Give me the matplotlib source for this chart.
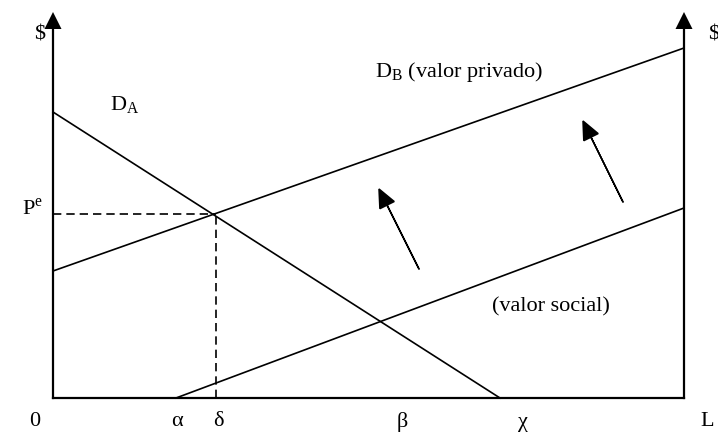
import matplotlib
matplotlib.use("Agg")
import matplotlib.pyplot as plt

plt.rcParams['font.family'] = ['Liberation Serif', 'DejaVu Serif']
plt.rcParams['mathtext.fontset'] = 'custom'
plt.rcParams['mathtext.rm'] = 'Liberation Serif'

# Data (arbitrary units: quantity L on x, $ on y)
L_max = 631
y_top = 386
demand_A_x = [0, 447]          # D_A
demand_A_y = [286, 0]
private_x = [0, 631]           # D_B (valor privado)
private_y = [127, 350]
social_x = [123, 631]          # valor social
social_y = [0, 190]
delta = 163
p_e = 184
shift_starts = [(366, 129), (570, 196)]
shift_ends = [(326, 209), (530, 277)]
x_tick_labels = ['0', 'α', 'δ', 'β', 'χ', 'L']
x_tick_pos = [-18, 124, 165, 349, 470, 654]

fig = plt.figure(figsize=(7.18, 4.32), dpi=100)
ax = fig.add_axes([0, 0, 1, 1])
ax.set_xlim(-53, 665)
ax.set_ylim(-34, 398)
ax.axis('off')

lw = 1.2
# axes
ax.plot([0, L_max], [0, 0], color='black', lw=1.6)
for xa in (0, L_max):
    ax.plot([xa, xa], [0, y_top - 16], color='black', lw=1.6)
    ax.arrow(xa, y_top - 17, 0, 17, head_width=17, head_length=17,
             length_includes_head=True, fc='black', ec='black', lw=0)

ax.plot(demand_A_x, demand_A_y, color='black', lw=lw)
ax.plot(private_x, private_y, color='black', lw=lw)
ax.plot(social_x, social_y, color='black', lw=lw)

# dashed equilibrium lines
ax.plot([0, delta], [p_e, p_e], color='black', lw=lw, ls=(0, (5, 3)))
ax.plot([delta, delta], [0, p_e], color='black', lw=lw, ls=(0, (5, 3)))

# shift arrows
for (x0, y0), (x1, y1) in zip(shift_starts, shift_ends):
    ax.arrow(x0, y0, x1 - x0, y1 - y0, head_width=16, head_length=18,
             length_includes_head=True, fc='black', ec='black', lw=1.1)

fs = 16
ax.text(-13, 363, '$', fontsize=fs, ha='center', va='center')
ax.text(661, 363, '$', fontsize=fs, ha='center', va='center')
ax.text(57, 293, r'D$_\mathrm{A}$', fontsize=fs, ha='left', va='center')
ax.text(-31, p_e + 5, r'P$^\mathrm{e}$', fontsize=fs, ha='left', va='center')
ax.text(322, 326, r'D$_\mathrm{B}$ (valor privado)', fontsize=fs, ha='left', va='center')
ax.text(439, 91, '(valor social)', fontsize=fs, ha='left', va='center')

for lab, xp in zip(x_tick_labels, x_tick_pos):
    ax.text(xp, -24, lab, fontsize=fs, ha='center', va='center')

fig.savefig('out.png', dpi=100)
